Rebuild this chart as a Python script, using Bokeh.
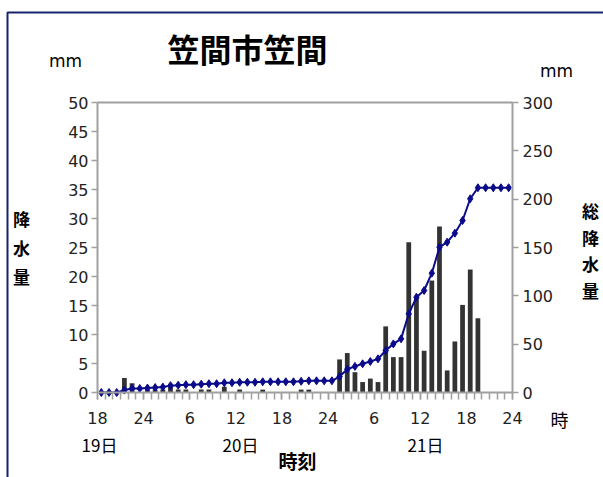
from bokeh.plotting import figure
from bokeh.models import (Range1d, LinearAxis, FixedTicker, SingleIntervalTicker,
                          ColumnDataSource, Label, BoxAnnotation)
from bokeh.embed import file_html
from bokeh.resources import INLINE

# ---- data (hour ending, counted from 19日 0時) ----
hours = list(range(19, 73))
rain = [0, 0, 0, 2.5, 1.6, 0, 0.5, 0.5, 0.5, 1.5, 0.5, 0.5, 0, 0.5, 0.5, 0, 1.0, 0, 0.5, 0, 0,
        0.5, 0, 0, 0, 0, 0.5, 0.5, 0, 0, 0,
        5.7, 6.8, 3.5, 1.8, 2.4, 1.8, 11.4, 6.1, 6.1, 25.9, 16.5, 7.2, 19.3, 28.6, 3.8, 8.8,
        15.1, 21.2, 12.8, 0, 0, 0, 0]
cumulative = [0, 0, 0, 2.5, 4.1, 4.1, 4.6, 5.1, 5.6, 7.1, 7.6, 8.1, 8.1, 8.6, 9.1, 9.1, 10.1,
              10.1, 10.6, 10.6, 10.6, 11.1, 11.1, 11.1, 11.1, 11.1, 11.6, 12.1, 12.1, 12.1, 12.1,
              16.5, 24.0, 27.0, 29.7, 32.1, 34.8, 43.4, 50.3, 55.5, 81.4, 98.6, 105.5, 123.4,
              150.3, 155.5, 164.8, 177.9, 200.4, 211.8, 211.8, 211.8, 211.8, 211.8]
xtick_hours = [18, 24, 30, 36, 42, 48, 54, 60, 66, 72]
xtick_labels = ["18", "24", "6", "12", "18", "24", "6", "12", "18", "24"]
day_labels = ["19日", "20日", "21日"]
title_text = "笠間市笠間"
left_title = "降水量"
right_title = "総降水量"

# ---- layout: pixel positions of the plot area in the picture ----
W, H = 603, 477
FL, FR, FT, FB = 97, 512, 102, 392
XPX = 54.0 / (FR - FL)      # hours per pixel
YPX = 50.0 / (FB - FT)      # mm per pixel (left scale)
def dx(px):
    return 18 + (px - FL) * XPX
def dy(py):
    return (FB - py) * YPX

# the frame covers the whole canvas; axes are pinned at the plot-area edges
p = figure(width=W, height=H,
           x_range=Range1d(dx(0), dx(W)), y_range=Range1d(dy(H), dy(0)),
           output_backend="svg", toolbar_location=None,
           min_border_left=0, min_border_right=0, min_border_top=0, min_border_bottom=0)
p.extra_y_ranges = {"cum": Range1d(dy(H) * 6, dy(0) * 6)}
p.xgrid.visible = False
p.ygrid.visible = False
p.outline_line_color = None
p.background_fill_color = "white"
p.border_fill_color = "white"

AX = "#a0a0a0"
TXT = "#222222"
TICKFONT = "DejaVu Sans"
TICKSIZE = "16px"

src = ColumnDataSource(dict(x=[h - 0.5 for h in hours], rain=rain, cum=cumulative))
p.vbar(x="x", top="rain", width=0.62, source=src, fill_color="#333333", line_color=None)
p.line(x="x", y="cum", source=src, y_range_name="cum", line_color="#0a0a8a", line_width=2)
p.scatter(x="x", y="cum", source=src, y_range_name="cum", marker="diamond", size=8,
          fill_color="#0a0a8a", line_color="#0a0a8a")

def style(ax, tick_out, standoff):
    ax.axis_line_color = AX
    ax.axis_line_width = 2
    ax.major_tick_line_color = AX
    ax.major_tick_line_width = 1.5
    ax.minor_tick_line_color = AX
    ax.minor_tick_line_width = 1.5
    ax.major_tick_out = tick_out
    ax.major_tick_in = 0
    ax.minor_tick_out = tick_out
    ax.minor_tick_in = 0
    ax.major_label_standoff = standoff
    ax.major_label_text_font = TICKFONT
    ax.major_label_text_font_size = TICKSIZE
    ax.major_label_text_color = TXT

# x axis
xa = p.xaxis[0]
xa.ticker = FixedTicker(ticks=xtick_hours, minor_ticks=list(range(18, 73)))
xa.major_label_overrides = {h: l for h, l in zip(xtick_hours, xtick_labels)}
xa.fixed_location = 0
xa.bounds = (18, 72)
style(xa, 7, 12)

# left axis
ya = p.yaxis[0]
ya.ticker = SingleIntervalTicker(interval=5)
ya.fixed_location = 18
ya.bounds = (0, 50)
style(ya, 6, 3)
ya.minor_tick_line_color = None

# right axis
ra = LinearAxis(y_range_name="cum", ticker=SingleIntervalTicker(interval=50))
ra.fixed_location = 72
ra.bounds = (0, 300)
style(ra, 6, 4)
ra.minor_tick_line_color = None
p.add_layout(ra, "right")

# top edge of the plot area
ta = LinearAxis(ticker=FixedTicker(ticks=[]))
ta.fixed_location = 50
ta.bounds = (18, 72)
style(ta, 0, 0)
p.add_layout(ta, "above")

JP = "Noto Sans CJK JP"

def lab(text, px, py, size, bold=False, font=JP, align="center"):
    p.add_layout(Label(x=dx(px), y=dy(py), text=text, text_font=font,
                       text_font_size=size, text_font_style="bold" if bold else "normal",
                       text_align=align, text_baseline="middle", text_color="#000000"))

lab(title_text, 247, 47, "32px", bold=True)
lab("mm", 65, 60, "17px", font="DejaVu Sans")
lab("mm", 556, 70, "17px", font="DejaVu Sans")
lab("時", 559, 418, "18px")
for t, px in zip(day_labels, [99, 240, 425]):
    lab(t, px, 444, "17px")
lab("時刻", 297, 460, "19px", bold=True)
for i, ch in enumerate(left_title):
    lab(ch, 21, 218 + 29 * i, "17px", bold=True)
for i, ch in enumerate(right_title):
    lab(ch, 590, 210 + 26.5 * i, "17px", bold=True)

# outer navy frame (top and left edges visible)
p.add_layout(BoxAnnotation(left=dx(7), right=dx(900), top=dy(12), bottom=dy(900),
                           fill_alpha=0, fill_color=None, line_color="#16246b",
                           line_alpha=1.0, line_width=2))

open("out.html", "w").write(file_html(p, INLINE))
